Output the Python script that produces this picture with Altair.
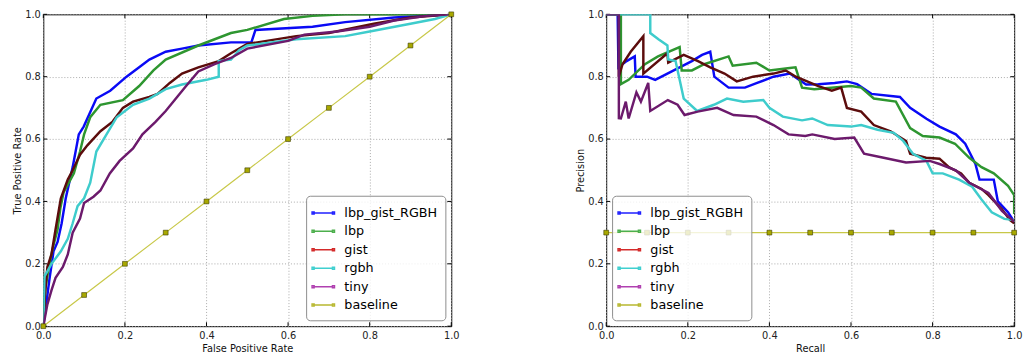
import altair as alt
import pandas as pd

series_names = ["lbp_gist_RGBH", "lbp", "gist", "rgbh", "tiny", "baseline"]
curve_colors = ["#0a0af5", "#2e9630", "#5c0c0c", "#3ecccc", "#6c1a6c", "#c6c640"]
legend_colors = ["#2020ff", "#4caf4c", "#d42a2a", "#3fcfcf", "#b040b0", "#b8b830"]
tick_values = [0.0, 0.2, 0.4, 0.6, 0.8, 1.0]

# ---------------- ROC curves ----------------
roc_fpr_lbp_gist_RGBH = [0, .008, .015, .025, .035, .045, .055, .072, .087, .099, .13, .164, .204, .235, .26, .30, .34, .38, .46, .51, .52, .66, .74, .86, .93, 1.0]
roc_tpr_lbp_gist_RGBH = [0, .08, .15, .24, .27, .33, .41, .51, .615, .64, .73, .755, .80, .83, .855, .88, .89, .90, .91, .91, .95, .96, .975, .99, .995, 1.0]

roc_fpr_lbp = [0, .005, .015, .025, .035, .042, .05, .075, .09, .10, .115, .14, .195, .235, .27, .30, .38, .46, .50, .59, .66, .74, 1.0]
roc_tpr_lbp = [0, .12, .20, .26, .31, .38, .43, .49, .56, .615, .67, .71, .725, .77, .82, .855, .90, .94, .95, .985, .995, 1.0, 1.0]

roc_fpr_gist = [0, .004, .01, .02, .03, .043, .06, .072, .09, .108, .14, .17, .195, .22, .26, .28, .31, .34, .38, .43, .46, .50, .62, .70, .81, .90, 1.0]
roc_tpr_gist = [0, .10, .19, .23, .31, .41, .47, .50, .55, .58, .625, .656, .70, .72, .735, .745, .78, .81, .83, .85, .875, .905, .93, .94, .97, .99, 1.0]

roc_fpr_rgbh = [0, .003, .02, .043, .06, .072, .084, .10, .115, .13, .155, .18, .22, .26, .30, .34, .40, .43, .43, .46, .48, .50, .62, .74, .80, .90, .96, 1.0]
roc_tpr_rgbh = [0, .16, .20, .24, .28, .33, .385, .41, .46, .56, .615, .67, .71, .73, .76, .775, .79, .80, .85, .855, .885, .90, .92, .93, .945, .97, .985, 1.0]

roc_fpr_tiny = [0, .01, .02, .03, .048, .06, .072, .09, .10, .123, .14, .163, .187, .22, .243, .275, .30, .325, .35, .38, .42, .46, .50, .60, .64, .72, .80, .86, .94, 1.0]
roc_tpr_tiny = [0, .07, .115, .155, .19, .23, .30, .345, .395, .415, .435, .49, .53, .57, .615, .655, .69, .73, .77, .817, .84, .86, .89, .915, .935, .945, .96, .98, .995, 1.0]

roc_fpr_baseline = [0.0, 0.1, 0.2, 0.3, 0.4, 0.5, 0.6, 0.7, 0.8, 0.9, 1.0]
roc_tpr_baseline = [0.0, 0.1, 0.2, 0.3, 0.4, 0.5, 0.6, 0.7, 0.8, 0.9, 1.0]

# ---------------- Precision-Recall curves ----------------
pr_rec_lbp_gist_RGBH = [0, .028, .03, .05, .07, .072, .10, .12, .15, .18, .21, .235, .255, .265, .30, .34, .37, .41, .45, .49, .52, .56, .59, .615, .65, .72, .745, .785, .817, .857, .88, .905, .915, .95, .96, .985, 1.0]
pr_prec_lbp_gist_RGBH = [1, 1, .83, .85, .865, .80, .80, .79, .81, .83, .85, .87, .88, .80, .765, .765, .78, .80, .81, .775, .776, .78, .785, .776, .745, .735, .70, .665, .64, .615, .585, .52, .47, .47, .40, .365, .335]

pr_rec_lbp = [0, .036, .036, .055, .095, .127, .18, .185, .21, .24, .30, .31, .368, .40, .45, .464, .48, .51, .60, .625, .656, .71, .745, .776, .817, .855, .89, .92, .95, .985, 1.0, 1.0]
pr_prec_lbp = [1, 1, .776, .79, .84, .865, .895, .82, .82, .84, .865, .835, .845, .82, .828, .83, .765, .76, .77, .765, .73, .72, .635, .61, .605, .585, .54, .51, .49, .45, .42, .36]

pr_rec_gist = [0, .031, .031, .04, .06, .091, .091, .15, .152, .19, .225, .255, .29, .32, .36, .41, .44, .465, .52, .553, .576, .59, .625, .656, .697, .735, .745, .784, .817, .84, .87, .89, .92, .937, .97, .99, 1.0]
pr_prec_gist = [1, 1, .80, .84, .88, .93, .81, .875, .845, .87, .85, .83, .81, .785, .80, .81, .82, .80, .77, .755, .765, .70, .688, .645, .625, .594, .553, .54, .537, .51, .49, .46, .44, .42, .375, .34, .33]

pr_rec_rgbh = [0, .108, .108, .128, .15, .152, .17, .18, .19, .223, .264, .296, .336, .385, .40, .433, .48, .505, .543, .60, .625, .665, .705, .728, .752, .785, .80, .825, .865, .897, .92, .945, .976, 1.0]
pr_prec_rgbh = [1, 1, .94, .92, .90, .855, .85, .79, .73, .69, .71, .73, .72, .725, .70, .672, .66, .666, .645, .64, .645, .63, .62, .594, .553, .53, .49, .49, .47, .447, .406, .365, .344, .34]

pr_rec_tiny = [0, .031, .031, .036, .048, .055, .074, .085, .103, .108, .151, .175, .192, .224, .272, .312, .368, .41, .447, .488, .505, .56, .608, .632, .68, .735, .793, .817, .857, .89, .937, .97, 1.0]
pr_prec_tiny = [1, 1, .667, .666, .72, .666, .75, .72, .78, .69, .725, .71, .677, .688, .70, .677, .672, .645, .615, .61, .615, .60, .605, .553, .54, .525, .53, .52, .50, .46, .427, .37, .335]

pr_rec_baseline = [0.0, 0.1, 0.2, 0.3, 0.4, 0.5, 0.6, 0.7, 0.8, 0.9, 1.0]
pr_prec_baseline = [0.3, 0.3, 0.3, 0.3, 0.3, 0.3, 0.3, 0.3, 0.3, 0.3, 0.3]


def build_df(pairs):
    rows = []
    for name, xs, ys in pairs:
        for i, (a, b) in enumerate(zip(xs, ys)):
            rows.append({"series": name, "x": a, "y": b, "i": i})
    return pd.DataFrame(rows)


roc_df = build_df([
    ("lbp_gist_RGBH", roc_fpr_lbp_gist_RGBH, roc_tpr_lbp_gist_RGBH),
    ("lbp", roc_fpr_lbp, roc_tpr_lbp),
    ("gist", roc_fpr_gist, roc_tpr_gist),
    ("rgbh", roc_fpr_rgbh, roc_tpr_rgbh),
    ("tiny", roc_fpr_tiny, roc_tpr_tiny),
])
roc_base = build_df([("baseline", roc_fpr_baseline, roc_tpr_baseline)])

pr_df = build_df([
    ("lbp_gist_RGBH", pr_rec_lbp_gist_RGBH, pr_prec_lbp_gist_RGBH),
    ("lbp", pr_rec_lbp, pr_prec_lbp),
    ("gist", pr_rec_gist, pr_prec_gist),
    ("rgbh", pr_rec_rgbh, pr_prec_rgbh),
    ("tiny", pr_rec_tiny, pr_prec_tiny),
])
pr_base = build_df([("baseline", pr_rec_baseline, pr_prec_baseline)])

legend_df = pd.DataFrame({"series": series_names, "x": [0.0] * 6, "y": [0.0] * 6})
ticks_df = pd.DataFrame({"t": tick_values})

W, H = 416, 318
SYMBOL = "M-1.2,0H1.2M-1.32,-0.12H-1.08V0.12H-1.32ZM1.08,-0.12H1.32V0.12H1.08Z"


def panel(curves_df, base_df, xtitle, ytitle, orient):
    sc = alt.Scale(domain=[0, 1], nice=False, zero=False)
    xax = alt.Axis(values=tick_values, format=".1f", title=xtitle)
    yax = alt.Axis(values=tick_values, format=".1f", title=ytitle)

    def X(f):
        return alt.X(f, scale=sc, axis=xax)

    def Y(f):
        return alt.Y(f, scale=sc, axis=yax)

    tk = alt.Chart(ticks_df)
    t_bottom = tk.mark_rule(color="black").encode(x=X("t:Q"), y=alt.value(H), y2=alt.value(H - 4))
    t_top = tk.mark_rule(color="black").encode(x=X("t:Q"), y=alt.value(0), y2=alt.value(4))
    t_left = tk.mark_rule(color="black").encode(y=Y("t:Q"), x=alt.value(0), x2=alt.value(4))
    t_right = tk.mark_rule(color="black").encode(y=Y("t:Q"), x=alt.value(W), x2=alt.value(W - 4))

    curves = alt.Chart(curves_df).mark_line(strokeWidth=2.5, clip=True).encode(
        x=X("x:Q"), y=Y("y:Q"),
        stroke=alt.Stroke("series:N", scale=alt.Scale(domain=series_names[:5], range=curve_colors[:5]), legend=None),
        order="i:Q",
    )
    bline = alt.Chart(base_df).mark_line(color="#c8c848", strokeWidth=1.2).encode(x=X("x:Q"), y=Y("y:Q"))
    bpts = alt.Chart(base_df).mark_square(size=24, fill="#a8a800", stroke="#3a3a00", strokeWidth=0.6, fillOpacity=1, opacity=1).encode(x=X("x:Q"), y=Y("y:Q"))
    leg = alt.Chart(legend_df).mark_line(strokeWidth=1.5).encode(
        x=X("x:Q"), y=Y("y:Q"),
        color=alt.Color("series:N", scale=alt.Scale(domain=series_names, range=legend_colors),
                        legend=alt.Legend(title=None, orient=orient, offset=6, padding=8,
                                          fillColor="rgba(255,255,255,0.8)", strokeColor="#8c8c8c",
                                          cornerRadius=4, labelFont="DejaVu Sans", labelFontSize=13,
                                          labelColor="black", symbolType=SYMBOL, symbolSize=300,
                                          symbolStrokeWidth=1.5, labelOffset=12, rowPadding=1.8)),
    )
    return alt.layer(t_bottom, t_top, t_left, t_right, curves, bline, bpts, leg).properties(width=W, height=H)


left = panel(roc_df, roc_base, "False Positive Rate", "True Positive Rate", "bottom-right")
right = panel(pr_df, pr_base, "Recall", "Precision", "bottom-left")

chart = alt.hconcat(left, right, spacing=117).resolve_scale(
    color="independent", stroke="independent"
).resolve_legend(color="independent").configure(
    padding={"left": 4, "top": -3, "right": 0, "bottom": 0}, font="DejaVu Sans"
).configure_view(
    stroke="black", strokeWidth=1
).configure_axis(
    domain=False, ticks=False, grid=True, gridColor="#a8a8a8", gridDash=[1, 2], gridWidth=1,
    labelFont="DejaVu Sans", labelFontSize=10, labelColor="#222", labelPadding=3, labelFlush=False,
    titleFont="DejaVu Sans", titleFontSize=10, titleFontWeight="normal", titleColor="#111", titlePadding=2,
).configure_axisX(
    labelPadding=5, titlePadding=3
)

chart.save("out.html", embed_options={"renderer": "svg", "actions": False})
